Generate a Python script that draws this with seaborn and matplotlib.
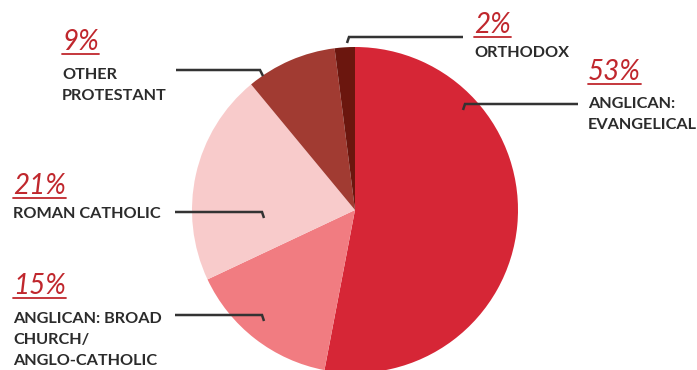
import matplotlib
matplotlib.use("Agg")
import matplotlib.pyplot as plt
import seaborn as sns

sns.set_theme(style="white")
plt.rcParams["font.family"] = ["Lato", "DejaVu Sans"]

# Denominations, clockwise from twelve o'clock
categories = ["ANGLICAN:\nEVANGELICAL", "ANGLICAN: BROAD\nCHURCH/\nANGLO-CATHOLIC",
              "ROMAN CATHOLIC", "OTHER\nPROTESTANT", "ORTHODOX"]
shares = [53, 15, 21, 9, 2]
pct_labels = ["53%", "15%", "21%", "9%", "2%"]
colors = ["#d62636", "#f17c81", "#f8cbcb", "#a13b32", "#6b160e"]

W, H = 697, 370
fig = plt.figure(figsize=(W / 100, H / 100), dpi=100)
ax = fig.add_axes([0, 0, 1, 1])

def Y(y):
    return H - y

ax.pie(shares, colors=colors, startangle=90, counterclock=False,
       center=(355, Y(210)), radius=163, frame=True,
       wedgeprops=dict(linewidth=0))
ax.set_xlim(0, W)
ax.set_ylim(0, H)
ax.set_aspect("equal", adjustable="box")
ax.axis("off")

red = "#c0272d"
dark = "#2b2b2b"
line_step = 21

# label blocks: (pct x, pct baseline, first name baseline, leader polyline)
layout = [
    (588, 80, 108, [(578, 104), (465, 104), (463, 110)]),
    (13, 294, 323, [(175, 315), (262, 315), (264, 321)]),
    (13, 194, 218, [(175, 212), (262, 212), (264, 218)]),
    (62, 50, 79, [(176, 70), (260, 70), (263, 76)]),
    (474, 33, 57, [(463, 37), (349, 37), (347, 43)]),
]

pct_texts = []
for (px, pb, nb, leader), pct, name in zip(layout, pct_labels, categories):
    t = ax.text(px, Y(pb), pct, fontsize=20, color=red, style="italic",
                fontweight="normal", va="baseline", ha="left")
    pct_texts.append((t, pb))
    for i, line in enumerate(name.split("\n")):
        ax.text(px, Y(nb + i * line_step), line, fontsize=11.7, color=dark,
                fontweight="bold", va="baseline", ha="left")
    xs = [p[0] for p in leader]
    ys = [Y(p[1]) for p in leader]
    ax.plot(xs, ys, color="#333333", lw=1.8, solid_capstyle="butt",
            solid_joinstyle="miter")

# underline the percentages
fig.canvas.draw()
r = fig.canvas.get_renderer()
inv = ax.transData.inverted()
for t, pb in pct_texts:
    bb = t.get_window_extent(renderer=r)
    (x0, _), (x1, _) = inv.transform([(bb.x0, bb.y0), (bb.x1, bb.y1)])
    ax.plot([x0, x1], [Y(pb + 3.5), Y(pb + 3.5)], color=red, lw=1.3)

fig.savefig("out.png", dpi=100)
